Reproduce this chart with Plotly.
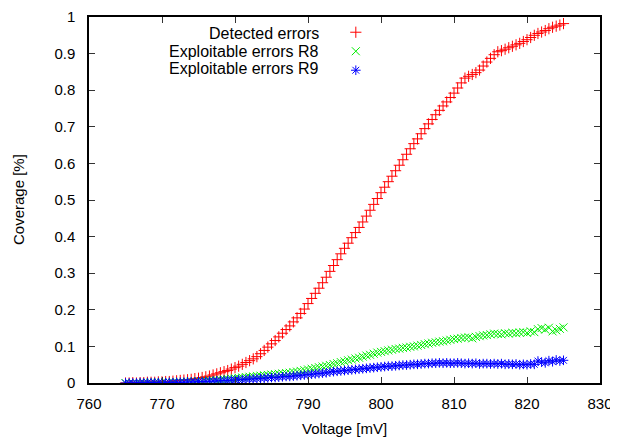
import plotly.graph_objects as go

voltage = [
    765.0, 765.5, 766.0, 766.5, 767.0, 767.5, 768.0, 768.5, 769.0, 769.5,
    770.0, 770.5, 771.0, 771.5, 772.0, 772.5, 773.0, 773.5, 774.0, 774.5,
    775.0, 775.5, 776.0, 776.5, 777.0, 777.5, 778.0, 778.5, 779.0, 779.5,
    780.0, 780.5, 781.0, 781.5, 782.0, 782.5, 783.0, 783.5, 784.0, 784.5,
    785.0, 785.5, 786.0, 786.5, 787.0, 787.5, 788.0, 788.5, 789.0, 789.5,
    790.0, 790.5, 791.0, 791.5, 792.0, 792.5, 793.0, 793.5, 794.0, 794.5,
    795.0, 795.5, 796.0, 796.5, 797.0, 797.5, 798.0, 798.5, 799.0, 799.5,
    800.0, 800.5, 801.0, 801.5, 802.0, 802.5, 803.0, 803.5, 804.0, 804.5,
    805.0, 805.5, 806.0, 806.5, 807.0, 807.5, 808.0, 808.5, 809.0, 809.5,
    810.0, 810.5, 811.0, 811.5, 812.0, 812.5, 813.0, 813.5, 814.0, 814.5,
    815.0, 815.5, 816.0, 816.5, 817.0, 817.5, 818.0, 818.5, 819.0, 819.5,
    820.0, 820.5, 821.0, 821.5, 822.0, 822.5, 823.0, 823.5, 824.0, 824.5,
    825.0,
]

detected = [
    0.000, 0.000, 0.001, 0.000, 0.001, 0.001, 0.002, 0.002, 0.002, 0.003,
    0.003, 0.004, 0.004, 0.005, 0.006, 0.007, 0.008, 0.009, 0.010, 0.012,
    0.013, 0.015, 0.017, 0.019, 0.022, 0.025, 0.028, 0.031, 0.034, 0.038,
    0.042, 0.046, 0.051, 0.056, 0.061, 0.066, 0.072, 0.080, 0.089, 0.098,
    0.107, 0.116, 0.126, 0.136, 0.146, 0.156, 0.167, 0.178, 0.190, 0.202,
    0.217, 0.231, 0.245, 0.259, 0.274, 0.289, 0.305, 0.321, 0.337, 0.353,
    0.368, 0.382, 0.397, 0.411, 0.425, 0.440, 0.456, 0.472, 0.488, 0.504,
    0.520, 0.535, 0.550, 0.565, 0.580, 0.595, 0.610, 0.625, 0.640, 0.654,
    0.667, 0.681, 0.695, 0.708, 0.720, 0.733, 0.745, 0.757, 0.768, 0.780,
    0.792, 0.806, 0.820, 0.833, 0.838, 0.843, 0.848, 0.855, 0.866, 0.877,
    0.887, 0.897, 0.905, 0.908, 0.912, 0.916, 0.920, 0.924, 0.928, 0.933,
    0.938, 0.944, 0.950, 0.955, 0.959, 0.963, 0.968, 0.972, 0.975, 0.978,
    0.982,
]

exploit_r8 = [
    0.000, 0.000, 0.000, 0.000, 0.000, 0.001, 0.001, 0.001, 0.001, 0.001,
    0.001, 0.002, 0.002, 0.002, 0.002, 0.003, 0.003, 0.003, 0.004, 0.004,
    0.005, 0.005, 0.006, 0.007, 0.007, 0.008, 0.009, 0.010, 0.011, 0.012,
    0.013, 0.014, 0.015, 0.016, 0.017, 0.018, 0.019, 0.020, 0.021, 0.022,
    0.023, 0.024, 0.025, 0.026, 0.027, 0.028, 0.030, 0.031, 0.033, 0.035,
    0.037, 0.039, 0.041, 0.043, 0.045, 0.047, 0.049, 0.052, 0.054, 0.057,
    0.059, 0.062, 0.064, 0.067, 0.069, 0.072, 0.075, 0.077, 0.080, 0.083,
    0.085, 0.087, 0.089, 0.091, 0.093, 0.094, 0.096, 0.097, 0.099, 0.100,
    0.102, 0.104, 0.106, 0.108, 0.110, 0.111, 0.113, 0.114, 0.116, 0.118,
    0.120, 0.121, 0.123, 0.124, 0.125, 0.122, 0.126, 0.128, 0.130, 0.131,
    0.133, 0.135, 0.134, 0.133, 0.136, 0.135, 0.137, 0.136, 0.138, 0.139,
    0.137, 0.141, 0.139, 0.147, 0.150, 0.146, 0.151, 0.141, 0.144, 0.148,
    0.152,
]

exploit_r9 = [
    0.000, 0.000, 0.000, 0.000, 0.001, 0.000, 0.001, 0.001, 0.001, 0.001,
    0.001, 0.001, 0.002, 0.001, 0.002, 0.002, 0.002, 0.003, 0.003, 0.003,
    0.004, 0.004, 0.004, 0.005, 0.005, 0.006, 0.006, 0.007, 0.007, 0.008,
    0.008, 0.009, 0.009, 0.010, 0.011, 0.011, 0.012, 0.013, 0.013, 0.014,
    0.015, 0.015, 0.016, 0.017, 0.018, 0.018, 0.019, 0.020, 0.021, 0.022,
    0.023, 0.024, 0.025, 0.026, 0.027, 0.028, 0.030, 0.031, 0.032, 0.033,
    0.034, 0.035, 0.036, 0.037, 0.038, 0.039, 0.040, 0.041, 0.042, 0.043,
    0.044, 0.045, 0.046, 0.046, 0.047, 0.048, 0.049, 0.049, 0.050, 0.051,
    0.051, 0.052, 0.053, 0.053, 0.054, 0.054, 0.055, 0.054, 0.055, 0.054,
    0.054, 0.055, 0.054, 0.053, 0.054, 0.053, 0.054, 0.052, 0.053, 0.053,
    0.052, 0.053, 0.052, 0.053, 0.051, 0.052, 0.051, 0.052, 0.050, 0.051,
    0.050, 0.052, 0.051, 0.060, 0.057, 0.055, 0.061, 0.058, 0.063, 0.060,
    0.062,
]

series_names = ["Detected errors", "Exploitable errors R8", "Exploitable errors R9"]
series_values = [detected, exploit_r8, exploit_r9]
series_colors = ["#ff0000", "#00ee00", "#0000ff"]
series_symbols = ["cross-thin", "x-thin", "asterisk"]

x_ticks = [760, 770, 780, 790, 800, 810, 820, 830]
y_ticks = [0, 0.1, 0.2, 0.3, 0.4, 0.5, 0.6, 0.7, 0.8, 0.9, 1]

FONT = "Liberation Sans, Arial, Helvetica, sans-serif"

fig = go.Figure()
for name, vals, col, sym in zip(series_names, series_values, series_colors, series_symbols):
    fig.add_trace(go.Scatter(
        x=voltage, y=vals, mode="markers", name=" ",
        marker=dict(symbol=sym, size=8, color=col, line=dict(color=col, width=1)),
        hovertext=name,
    ))

axis_common = dict(
    showgrid=False, zeroline=False, showline=True, linecolor="black", linewidth=1.5,
    mirror="ticks", ticks="inside", ticklen=6, tickwidth=1.2, tickcolor="#333333",
    tickfont=dict(family=FONT, size=15, color="black"),
)

# the page body has an 8 px margin, so the figure is sized to fit the 618x437 window
fig.update_layout(
    width=610, height=429,
    margin=dict(l=81, r=18, t=9, b=54, autoexpand=False),
    paper_bgcolor="white", plot_bgcolor="white",
    font=dict(family=FONT, size=15, color="black"),
    xaxis=dict(range=[760, 830], tickvals=x_ticks, ticklabelstandoff=6, **axis_common),
    yaxis=dict(range=[0, 1], tickvals=y_ticks, ticklabelstandoff=9, **axis_common),
    showlegend=True,
    legend=dict(x=0.483, y=0.998, xanchor="left", yanchor="top",
                bgcolor="rgba(0,0,0,0)", font=dict(family=FONT, size=8),
                itemwidth=30),
)

# legend labels (right-aligned, left of the symbols, as in the original)
label_y = [0.956, 0.907, 0.858]
for name, ly in zip(series_names, label_y):
    fig.add_annotation(xref="paper", yref="paper", x=0.454, y=ly, text=name,
                       showarrow=False, xanchor="right", yanchor="middle",
                       font=dict(family=FONT, size=16, color="black"))

fig.add_annotation(xref="paper", yref="paper", x=0.5, y=-0.1230, text="Voltage [mV]",
                   showarrow=False, xanchor="center", yanchor="middle",
                   font=dict(family=FONT, size=15, color="black"))
fig.add_annotation(xref="paper", yref="paper", x=-0.1389, y=0.5, text="Coverage [%]",
                   showarrow=False, xanchor="center", yanchor="middle", textangle=-90,
                   font=dict(family=FONT, size=15, color="black"))

fig.write_html("out.html")
